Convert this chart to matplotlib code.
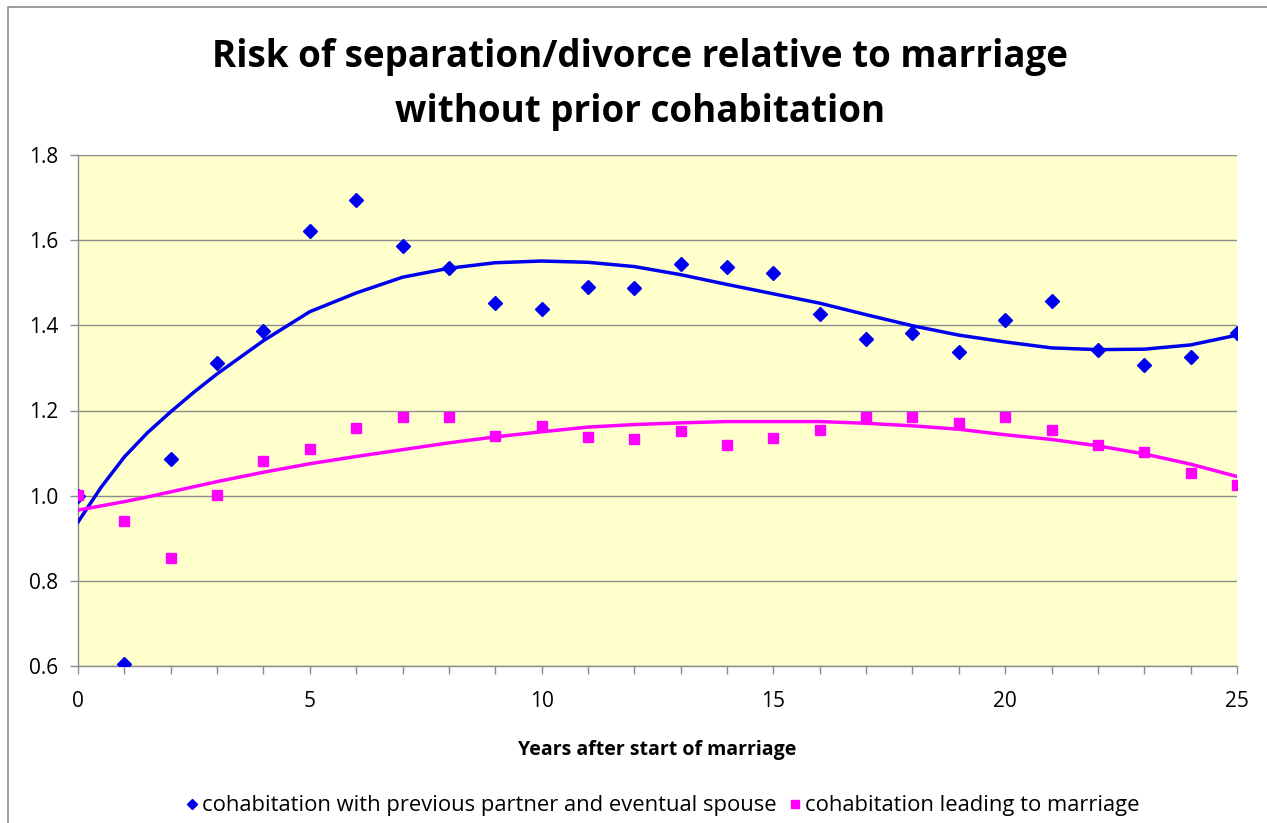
import numpy as np
import matplotlib
matplotlib.use("Agg")
import matplotlib.pyplot as plt
from matplotlib.patches import Rectangle

years = list(range(0, 26))

# markers
prev_partner = [1.00, 0.604, 1.087, 1.312, 1.387, 1.621, 1.695, 1.586, 1.534, 1.452,
                1.439, 1.491, 1.487, 1.543, 1.538, 1.522, 1.426, 1.369, 1.382, 1.338,
                1.413, 1.456, 1.343, 1.308, 1.326, 1.382]
leading_marriage = [1.002, 0.941, 0.854, 1.002, 1.081, 1.110, 1.159, 1.185, 1.185, 1.141,
                    1.163, 1.138, 1.132, 1.151, 1.119, 1.136, 1.154, 1.185, 1.185, 1.170,
                    1.185, 1.154, 1.119, 1.103, 1.053, 1.024]

# trend lines (half-year steps near the start where it bends)
trend_x = [0, 0.5, 1, 1.5, 2, 2.5, 3, 4, 5, 6, 7, 8, 9, 10, 11, 12, 13, 14, 15, 16, 17, 18, 19,
           20, 21, 22, 23, 24, 25]
prev_partner_trend = [0.938, 1.02, 1.091, 1.148, 1.197, 1.243, 1.286, 1.364, 1.432, 1.476, 1.513,
                      1.534, 1.547, 1.551, 1.548, 1.538, 1.519, 1.496, 1.474, 1.452, 1.425, 1.399,
                      1.377, 1.361, 1.347, 1.343, 1.344, 1.354, 1.377]
leading_marriage_trend = [0.966, 0.976, 0.986, 0.997, 1.009, 1.021, 1.033, 1.055, 1.075, 1.092,
                          1.108, 1.124, 1.138, 1.150, 1.161, 1.167, 1.171, 1.174, 1.174, 1.174,
                          1.170, 1.164, 1.156, 1.143, 1.132, 1.117, 1.098, 1.074, 1.045]

blue = "#0000F0"
pink = "#FF00FF"
font = "Open Sans"

fig = plt.figure(figsize=(12.67, 8.23), dpi=100)
fig.patches.append(Rectangle((8 / 1267, -0.01), 1.1, 1 - 7 / 823 + 0.01, transform=fig.transFigure,
                             fill=False, edgecolor="#8c8c8c", linewidth=1.2))
ax = fig.add_axes([78 / 1267, 1 - 666 / 823, (1237 - 78) / 1267, (666 - 155) / 823])
ax.set_facecolor("#FFFFCC")

ax.plot(trend_x, prev_partner_trend, color=blue, linewidth=2.5, zorder=3)
ax.plot(trend_x, leading_marriage_trend, color=pink, linewidth=2.5, zorder=3)
ax.plot(years, prev_partner, "D", color=blue, markersize=7, linestyle="none", zorder=4,
        label="cohabitation with previous partner and eventual spouse")
ax.plot(years, leading_marriage, "s", color=pink, markersize=7, linestyle="none", zorder=5,
        label="cohabitation leading to marriage")

ax.set_xlim(0, 25)
ax.set_ylim(0.6, 1.8)
ax.set_xticks([0, 5, 10, 15, 20, 25])
ax.set_xticks(years, minor=True)
ax.set_yticks([0.6, 0.8, 1.0, 1.2, 1.4, 1.6, 1.8])
ax.set_yticklabels(["0.6", "0.8", "1.0", "1.2", "1.4", "1.6", "1.8"])
ax.grid(axis="y", color="#8c8c8c", linewidth=1.0)
ax.set_axisbelow(True)
for s in ["top", "right"]:
    ax.spines[s].set_visible(False)
for s in ["left", "bottom"]:
    ax.spines[s].set_color("#8c8c8c")
    ax.spines[s].set_linewidth(1.0)
ax.tick_params(axis="both", which="both", color="#8c8c8c", length=6, width=1.0)
ax.tick_params(axis="x", which="major", pad=12)
ax.tick_params(axis="y", pad=8)
for lbl in ax.get_xticklabels() + ax.get_yticklabels():
    lbl.set_fontfamily(font)
    lbl.set_fontsize(15)

ax.set_xlabel("Years after start of marriage", fontfamily=font, fontsize=14, fontweight="bold", labelpad=20)

fig.text(0.505, 1 - 57 / 823, "Risk of separation/divorce relative to marriage", ha="center", va="center",
         fontfamily=font, fontsize=26.5, fontweight="bold")
fig.text(0.505, 1 - 112 / 823, "without prior cohabitation", ha="center", va="center",
         fontfamily=font, fontsize=26.5, fontweight="bold")

leg = fig.legend(loc="center", bbox_to_anchor=(662 / 1267, 1 - 806 / 823), ncol=2, frameon=False,
                 handletextpad=0.1, columnspacing=0.5, handlelength=0.7, markerscale=0.8,
                 prop={"family": font, "size": 15.8})

fig.savefig("out.png", dpi=100)
